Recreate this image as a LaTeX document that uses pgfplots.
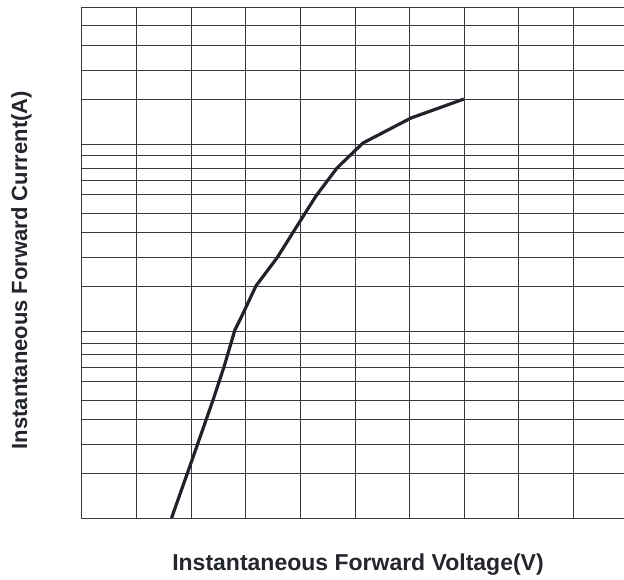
\documentclass[border=0pt]{standalone}
\usepackage{fontspec}
\setmainfont{Liberation Sans}
\usepackage{pgfplots}
\pgfplotsset{compat=1.18}
\definecolor{gridc}{RGB}{55,58,64}
\definecolor{curvec}{RGB}{32,36,42}
\definecolor{textc}{RGB}{35,38,44}
\begin{document}
\begin{tikzpicture}
\begin{axis}[
  at={(0,0)}, anchor=south west,
  scale only axis,
  width=546pt, height=511pt,
  xmin=0, xmax=2.0,
  ymode=log, ymin=0.1, ymax=54.03,
  xtick={0.2,0.4,0.6,0.8,1.0,1.2,1.4,1.6,1.8},
  ytick={0.174,0.2457,0.3343,0.4276,0.5403,0.6419,0.7534,0.8627,1,
         1.74,2.457,3.343,4.276,5.403,6.419,7.44,8.627,10,
         17.4,24.57,33.43,42.76},
  minor tick num=0,
  xticklabels={}, yticklabels={},
  major tick length=0pt,
  grid=major,
  major grid style={line width=1pt, draw=gridc},
  axis line style={line width=1pt, draw=gridc},
  xlabel={Instantaneous Forward Voltage(V)},
  ylabel={Instantaneous Forward Current(A)},
  xlabel style={font=\fontsize{23}{27}\selectfont\bfseries, text=textc,
    at={(axis description cs:0.5055,0)}, anchor=base, yshift=-52pt},
  ylabel style={font=\fontsize{22}{26}\selectfont\bfseries, text=textc,
    at={(axis description cs:-0.1007,0.485)}, anchor=base},
  clip=false,
]
\addplot[curvec, line width=3.2pt, line join=round, line cap=butt] coordinates {
  (0.328,0.1) (0.407,0.212) (0.480,0.4276) (0.520,0.642) (0.560,1.012)
  (0.582,1.174) (0.637,1.74) (0.714,2.457) (0.813,4.17) (0.857,5.27)
  (0.934,7.44) (1.029,10.12) (1.205,13.77) (1.399,17.4)
};
\end{axis}
\pgfresetboundingbox
\path[use as bounding box] (-82pt,-61pt) rectangle (542pt,518pt);
\end{tikzpicture}
\end{document}
